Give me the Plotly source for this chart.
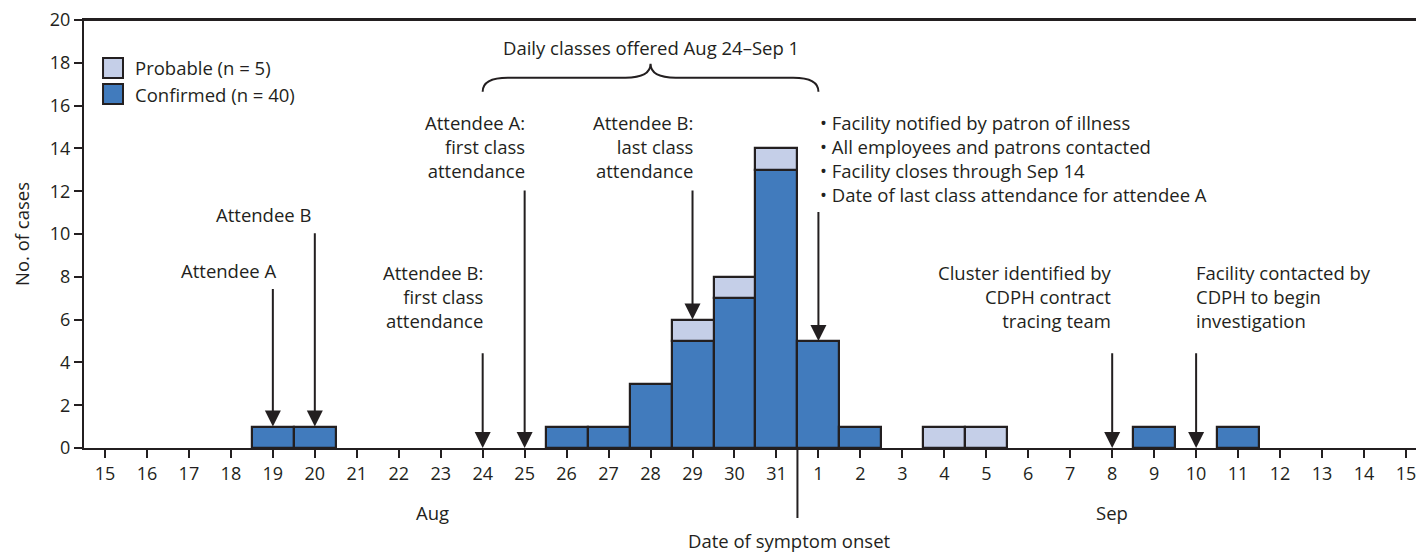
import plotly.graph_objects as go

# ---- data ----
day_labels = ["15", "16", "17", "18", "19", "20", "21", "22", "23", "24", "25", "26", "27", "28",
              "29", "30", "31", "1", "2", "3", "4", "5", "6", "7", "8", "9", "10", "11", "12",
              "13", "14", "15"]
confirmed = [0, 0, 0, 0, 1, 1, 0, 0, 0, 0, 0, 1, 1, 3, 5, 7, 13, 5, 1, 0, 0, 0, 0, 0, 0, 1, 0,
             1, 0, 0, 0, 0]
probable = [0, 0, 0, 0, 0, 0, 0, 0, 0, 0, 0, 0, 0, 0, 1, 1, 1, 0, 0, 0, 1, 1, 0, 0, 0, 0, 0,
            0, 0, 0, 0, 0]
month_labels = ["Aug", "Sep"]
legend_labels = ["Probable (n = 5)", "Confirmed (n = 40)"]
y_ticks = list(range(0, 21, 2))

# ---- styling ----
FONT = "Open Sans"
INK = "#231F20"
C_CONF = "#417BBD"
C_PROB = "#C5CFE8"
FS = 18.5
TFS = 18

x = list(range(len(day_labels)))
XMIN, XMAX = -0.5, 31.43


def nz(v):
    return [val if val else None for val in v]


fig = go.Figure()
fig.add_trace(go.Bar(x=x, y=nz(confirmed), width=1, name=legend_labels[1],
                     marker=dict(color=C_CONF, line=dict(color=INK, width=2.2))))
fig.add_trace(go.Bar(x=x, y=nz(probable), width=1, name=legend_labels[0],
                     base=[c if p else None for c, p in zip(confirmed, probable)],
                     marker=dict(color=C_PROB, line=dict(color=INK, width=2.2))))

ann = []


def text(xv, yv, t, xanchor, align):
    ann.append(dict(x=xv, y=yv, xref="x", yref="y", text=t, showarrow=False,
                    xanchor=xanchor, yanchor="middle", align=align,
                    font=dict(family=FONT, size=FS, color=INK)))


def arrow(xv, y_from, y_to):
    ann.append(dict(x=xv, y=y_to, ax=xv, ay=y_from, xref="x", yref="y", axref="x", ayref="y",
                    text="", showarrow=True, arrowhead=2, arrowsize=1.6, arrowwidth=2,
                    arrowcolor=INK, standoff=0))


tot = [c + p for c, p in zip(confirmed, probable)]
arrow(4, 7.5, tot[4])
arrow(5, 10.1, tot[5])
arrow(9, 4.5, 0)
arrow(10, 12.1, 0)
arrow(14, 12.1, tot[14])
arrow(17, 11.1, tot[17])
arrow(24, 4.5, 0)
arrow(26, 4.5, 0)

text(4.15, 8.3, "Attendee A", "right", "right")
text(4.95, 10.9, "Attendee B", "right", "right")
text(9.05, 7.1, "Attendee B:<br>first class<br>attendance", "right", "right")
text(10.05, 14.1, "Attendee A:<br>first class<br>attendance", "right", "right")
text(14.05, 14.1, "Attendee B:<br>last class<br>attendance", "right", "right")
text(17.0, 13.55,
     "• Facility notified by patron of illness<br>• All employees and patrons contacted<br>"
     "• Facility closes through Sep 14<br>• Date of last class attendance for attendee A",
     "left", "left")
text(24.05, 7.1, "Cluster identified by<br>CDPH contract<br>tracing team", "right", "right")
text(25.95, 7.1, "Facility contacted by<br>CDPH to begin<br>investigation", "left", "left")
text(13, 18.7, "Daily classes offered Aug 24–Sep 1", "center", "center")

# month labels
for xv, lab in zip([7.8, 24.0], month_labels):
    ann.append(dict(x=xv, y=-0.15, xref="x", yref="paper", text=lab, showarrow=False,
                    xanchor="center", yanchor="middle",
                    font=dict(family=FONT, size=FS, color=INK)))
# axis titles
ann.append(dict(x=16.3, y=-0.215, xref="x", yref="paper", text="Date of symptom onset",
                showarrow=False, xanchor="center", yanchor="middle",
                font=dict(family=FONT, size=FS, color=INK)))
ann.append(dict(x=-0.047, y=0.5, xref="paper", yref="paper", text="No. of cases",
                showarrow=False, xanchor="center", yanchor="middle", textangle=-90,
                font=dict(family=FONT, size=FS, color=INK)))

# custom legend
shapes = []
leg_y = [0.888, 0.827]
leg_col = [C_PROB, C_CONF]
for yy, col, lab in zip(leg_y, leg_col, legend_labels):
    shapes.append(dict(type="rect", xref="paper", yref="paper",
                       x0=0.0142, x1=0.0291, y0=yy - 0.0234, y1=yy + 0.0234,
                       fillcolor=col, line=dict(color=INK, width=2)))
    ann.append(dict(x=0.0366, y=yy, xref="paper", yref="paper", text=lab, showarrow=False,
                    xanchor="left", yanchor="middle",
                    font=dict(family=FONT, size=FS, color=INK)))

# brace
shapes.append(dict(type="path", xref="x", yref="y",
                   path="M 9,16.65 Q 9,17.3 9.6,17.3 L 12.4,17.3 Q 13,17.3 13,17.95 "
                        "Q 13,17.3 13.6,17.3 L 16.4,17.3 Q 17,17.3 17,16.65",
                   line=dict(color=INK, width=2)))
# month divider
shapes.append(dict(type="line", xref="x", yref="paper", x0=16.5, x1=16.5, y0=0, y1=-0.1636,
                   line=dict(color=INK, width=2)))
# top frame line
shapes.append(dict(type="line", xref="paper", yref="paper", x0=0, x1=1, y0=1, y1=1,
                   line=dict(color=INK, width=2)))

fig.update_layout(
    width=1416, height=546,
    margin=dict(l=76, r=0, t=12, b=106),
    paper_bgcolor="white", plot_bgcolor="white",
    barmode="overlay", bargap=0, showlegend=False,
    font=dict(family=FONT, size=TFS, color=INK),
    annotations=ann, shapes=shapes,
    xaxis=dict(range=[XMIN, XMAX], tickmode="array", tickvals=x, ticktext=day_labels,
               ticks="outside", ticklen=8, tickwidth=2, tickcolor=INK,
               showline=True, linecolor=INK, linewidth=2, mirror=True,
               showgrid=False, zeroline=False, automargin=False,
               ticklabeloverflow="allow", tickfont=dict(size=TFS)),
    yaxis=dict(range=[0, 20], tickvals=y_ticks, ticks="outside", ticklen=8, tickwidth=2,
               tickcolor=INK, showline=True, linecolor=INK, linewidth=2,
               showgrid=False, zeroline=False, automargin=False,
               ticklabeloverflow="allow", tickfont=dict(size=TFS)),
)

fig.write_html("out.html")
